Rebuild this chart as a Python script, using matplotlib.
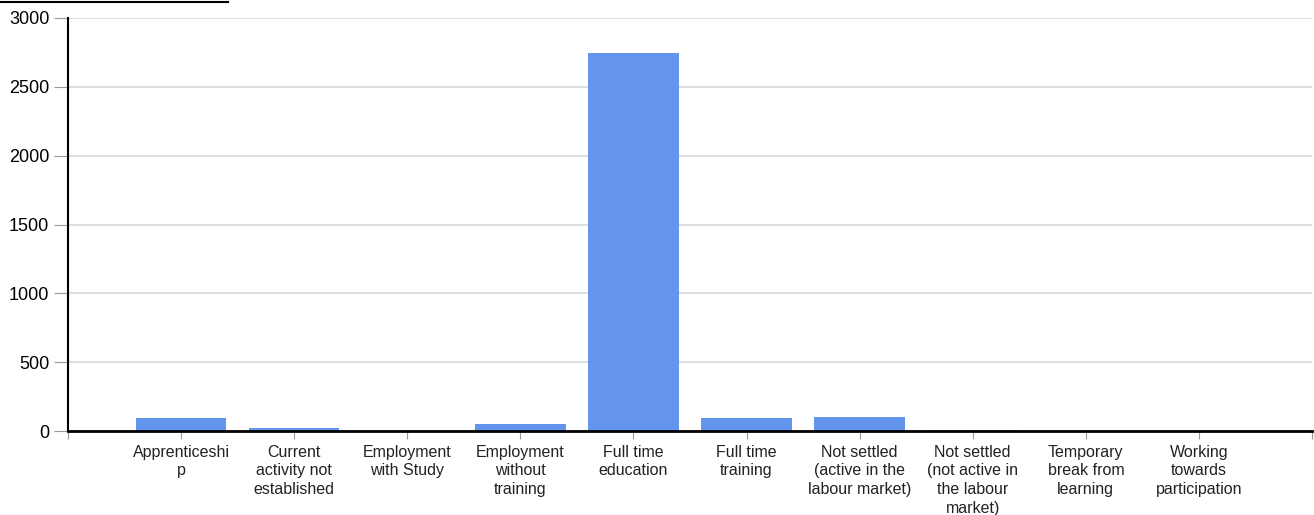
import matplotlib.pyplot as plt
from matplotlib.lines import Line2D

plt.rcParams['font.family'] = ['Liberation Sans', 'DejaVu Sans']

categories = ['Apprenticeshi\np', 'Current\nactivity not\nestablished', 'Employment\nwith Study',
              'Employment\nwithout\ntraining', 'Full time\neducation', 'Full time\ntraining',
              'Not settled\n(active in the\nlabour market)', 'Not settled\n(not active in\nthe labour\nmarket)',
              'Temporary\nbreak from\nlearning', 'Working\ntowards\nparticipation']
values = [95, 25, 3, 50, 2745, 95, 100, 5, 3, 3]
y_ticks = [0, 500, 1000, 1500, 2000, 2500, 3000]

fig = plt.figure(figsize=(13.14, 5.15), dpi=100)
ax = fig.add_axes([68 / 1314, 84 / 515, 1244 / 1314, 413 / 515])

x = list(range(len(categories)))
ax.bar(x, values, width=0.8, color='#6495ed', zorder=3)

ax.set_xlim(-1, len(categories))
ax.set_ylim(0, 3000)
ax.set_yticks(y_ticks)
ax.set_yticklabels([str(v) for v in y_ticks], fontsize=13)
ax.set_xticks([-1] + x + [len(categories)])
ax.set_xticklabels([''] + categories + [''], fontsize=11.5, linespacing=1.3)

ax.grid(axis='y', color='#dddddd', linewidth=1.5, zorder=0)
for side in ['top', 'right']:
    ax.spines[side].set_visible(False)
ax.spines['left'].set_linewidth(1.5)
ax.spines['bottom'].set_linewidth(2)
ax.spines['bottom'].set_zorder(4)
ax.tick_params(axis='y', length=10, color='#999999', pad=3.5)
ax.tick_params(axis='x', length=6, color='#999999', pad=4, labelcolor='#222222')

# cut-off title underline at top left
fig.add_artist(Line2D([0, 228 / 1314], [1 - 2 / 515, 1 - 2 / 515], color='black', linewidth=1.5))

fig.savefig('out.png', dpi=100)
